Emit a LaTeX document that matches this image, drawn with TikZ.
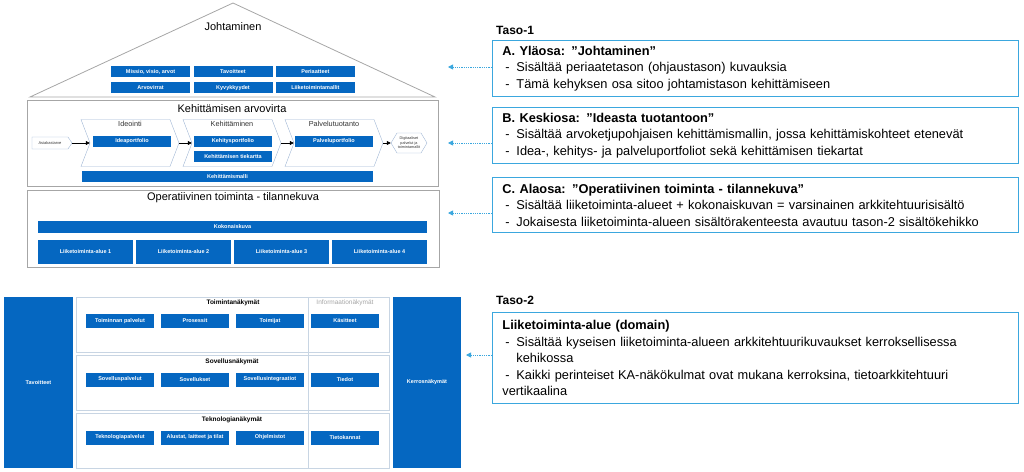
\documentclass[tikz,border=0pt]{standalone}
\usepackage{fontspec}
\setmainfont{Liberation Sans}
\usetikzlibrary{positioning,arrows.meta,shapes.symbols}

\definecolor{tileblue}{HTML}{0567C1}
\definecolor{chevline}{HTML}{9FB6D4}
\definecolor{panelgray}{HTML}{A6A6A6}
\definecolor{layerline}{HTML}{C8D5E3}
\definecolor{infoblue}{HTML}{3BA7DE}
\definecolor{textgray}{HTML}{333333}

\newcommand{\dashline}[1]{\par\hangindent=14pt\hangafter=1\noindent\makebox[14pt][l]{\hspace{3pt}-}#1}

\begin{document}
\begin{tikzpicture}[
    x=1pt, y=-1pt,
    tile/.style={
        fill=tileblue,
        text=white,
        inner sep=0pt,
        minimum width=79pt,
        minimum height=11pt,
        font=\fontsize{5.5}{6}\selectfont\bfseries
    },
    panel/.style={
        draw=panelgray,
        line width=0.8pt,
        inner sep=0pt
    },
    paneltitle/.style={
        inner sep=0pt,
        font=\fontsize{11}{13}\selectfont
    },
    phase/.style={
        signal,
        signal from=west,
        signal to=east,
        signal pointer angle=138,
        draw=chevline,
        minimum width=98pt,
        minimum height=47pt,
        inner sep=0pt
    },
    phaselabel/.style={
        inner sep=0pt,
        text=textgray,
        font=\fontsize{7.3}{8}\selectfont
    },
    flow/.style={
        -{Triangle[length=4pt,width=4pt]},
        line width=0.6pt
    },
    layer/.style={
        draw=layerline,
        line width=0.7pt,
        minimum width=313pt,
        minimum height=55pt,
        inner sep=0pt
    },
    layertitle/.style={
        inner sep=0pt,
        font=\fontsize{6.5}{8}\selectfont\bfseries
    },
    infobox/.style={
        draw=infoblue,
        line width=0.9pt,
        anchor=north west,
        minimum width=526pt,
        text width=506pt,
        inner xsep=10pt,
        inner ysep=4pt,
        align=left,
        font=\fontsize{12.8}{16.5}\selectfont
    },
    tasolabel/.style={
        anchor=west,
        inner sep=0pt,
        font=\fontsize{12}{14}\selectfont\bfseries
    },
    pointer/.style={
        densely dotted,
        draw=infoblue,
        line width=0.8pt,
        -{Triangle[length=5pt,width=5pt,fill=infoblue]}
    }
]
\useasboundingbox (0,0) rectangle (1024,471);

\draw[panel] (30,97) -- (233,3) -- (435,97) -- cycle;
\node[paneltitle] (johtaminen) at (233,27) {Johtaminen};
\node[tile] (tavoitteetylä) at (233,71.5) {Tavoitteet};
\node[tile, left=3pt of tavoitteetylä] (missio) {Missio, visio, arvot};
\node[tile, right=3pt of tavoitteetylä] (periaatteet) {Periaatteet};
\node[tile, below=5pt of missio] (arvovirrat) {Arvovirrat};
\node[tile, below=5pt of tavoitteetylä] (kyvykkyydet) {Kyvykkyydet};
\node[tile, below=5pt of periaatteet] (toimintamallit) {Liiketoimintamallit};

\node[panel, minimum width=411pt, minimum height=86pt] (arvovirta) at (233,143) {};
\node[paneltitle] (arvovirtaotsikko) at (232,109) {Kehittämisen arvovirta};
\node[phase] (ideointi) at (130,143) {};
\node[phase] (kehittaminen) at (232,143) {};
\node[phase] (palvelutuotanto) at (334,143) {};
\node[phaselabel, below=2pt of ideointi.north] {Ideointi};
\node[phaselabel, below=2pt of kehittaminen.north] {Kehittäminen};
\node[phaselabel, below=2pt of palvelutuotanto.north] {Palvelutuotanto};
\node[tile, minimum width=78pt] (ideaportfolio) at (132,141.5) {Ideaportfolio};
\node[tile, minimum width=78pt] (kehitysportfolio) at (233,141.5) {Kehitysportfolio};
\node[tile, minimum width=78pt, below=4pt of kehitysportfolio] (tiekartta) {Kehittämisen tiekartta};
\node[tile, minimum width=78pt] (palveluportfolio) at (334,141.5) {Palveluportfolio};
\node[tile, minimum width=291pt] (kehittamismalli) at (227.5,176.5) {Kehittämismalli};
\node[signal, signal to=east, signal pointer angle=112, draw=chevline,
      minimum width=40pt, minimum height=12pt, inner sep=0pt,
      text=textgray, font=\fontsize{4}{5}\selectfont] (asiakastarve) at (50,143) {Asiakastarve};
\node[signal, signal to=west and east, signal pointer angle=118, draw=chevline,
      minimum width=36pt, minimum height=20pt, inner sep=0pt, align=center,
      text=textgray, font=\fontsize{3.8}{4.6}\selectfont] (digitaaliset) at (409,143) {Digitaaliset\\palvelut ja\\toimintamallit};
\draw[flow] (asiakastarve.east) -- (ideointi.west);
\draw[flow] (ideointi.east) -- (kehittaminen.west);
\draw[flow] (kehittaminen.east) -- (palvelutuotanto.west);
\draw[flow] (palvelutuotanto.east) -- (digitaaliset.west);

\node[panel, minimum width=412pt, minimum height=77pt] (operatiivinen) at (233,228.5) {};
\node[paneltitle] (operatiivinenotsikko) at (233,198) {Operatiivinen toiminta - tilannekuva};
\node[tile, minimum width=389pt, minimum height=12pt] (kokonaiskuva) at (232.5,227) {Kokonaiskuva};
\foreach \i in {1,...,4}
    \node[tile, minimum width=95pt, minimum height=24pt] (alue\i) at ({85.5+(\i-1)*98},252) {Liiketoiminta-alue \i};

\node[tile, minimum width=69pt, minimum height=171pt] (tavoitteet) at (38.5,382.5) {Tavoitteet};
\node[tile, minimum width=68pt, minimum height=171pt] (kerrosnakymat) at (427,382.5) {Kerrosnäkymät};
\node[layer] (toimintanakymat) at (232.5,324.5) {};
\node[layer] (sovellusnakymat) at (232.5,382.5) {};
\node[layer] (teknologianakymat) at (232.5,440.5) {};
\draw[layerline, line width=0.7pt] (308,297) -- (308,468);
\node[layertitle] at (233,303) {Toimintanäkymät};
\node[layertitle, font=\fontsize{6.5}{8}\selectfont, text=panelgray] at (345,303) {Informaationäkymät};
\node[layertitle] at (232,362) {Sovellusnäkymät};
\node[layertitle] at (232,420) {Teknologianäkymät};
\foreach \teksti [count=\i] in {Toiminnan palvelut, Prosessit, Toimijat, Käsitteet}
    \node[tile, minimum width=68pt, minimum height=14pt] (toiminta\i) at ({120+(\i-1)*75},321) {\teksti};
\foreach \teksti [count=\i] in {Sovelluspalvelut, Sovellukset, Sovellusintegraatiot, Tiedot}
    \node[tile, minimum width=68pt, minimum height=14pt] (sovellus\i) at ({120+(\i-1)*75},379.5) {\teksti};
\foreach \teksti [count=\i] in {Teknologiapalvelut, {Alustat, laitteet ja tilat}, Ohjelmistot, Tietokannat}
    \node[tile, minimum width=68pt, minimum height=14pt] (teknologia\i) at ({120+(\i-1)*75},437.5) {\teksti};

\node[tasolabel] (taso1) at (496,30) {Taso-1};
\node[infobox, minimum height=56pt] (ylaosa) at (492,40)
{\noindent\textbf{A. Yläosa: ”Johtaminen”}%
\dashline{Sisältää periaatetason (ohjaustason) kuvauksia}%
\dashline{Tämä kehyksen osa sitoo johtamistason kehittämiseen}};
\node[infobox, minimum height=56pt] (keskiosa) at (492,107)
{\noindent\textbf{B. Keskiosa: ”Ideasta tuotantoon”}%
\dashline{Sisältää arvoketjupohjaisen kehittämismallin, jossa kehittämiskohteet etenevät}%
\dashline{Idea-, kehitys- ja palveluportfoliot sekä kehittämisen tiekartat}};
\node[infobox, minimum height=55pt] (alaosa) at (492,177)
{\noindent\textbf{C. Alaosa: ”Operatiivinen toiminta - tilannekuva”}%
\dashline{Sisältää liiketoiminta-alueet + kokonaiskuvan = varsinainen arkkitehtuurisisältö}%
\dashline{Jokaisesta liiketoiminta-alueen sisältörakenteesta avautuu tason-2 sisältökehikko}};
\node[tasolabel] (taso2) at (496,300) {Taso-2};
\node[infobox, minimum height=91pt] (domain) at (492,312)
{\noindent\textbf{Liiketoiminta-alue (domain)}%
\dashline{Sisältää kyseisen liiketoiminta-alueen arkkitehtuurikuvaukset kerroksellisessa\newline kehikossa}%
\dashline{Kaikki perinteiset KA-näkökulmat ovat mukana kerroksina, tietoarkkitehtuuri\newline vertikaalina}};

\coordinate (ylaosakarki) at (448,67);
\coordinate (keskiosakarki) at (448,143);
\coordinate (alaosakarki) at (448,213);
\coordinate (domainkarki) at (466,355);
\draw[pointer] (ylaosa.west |- ylaosakarki) -- (ylaosakarki);
\draw[pointer] (keskiosa.west |- keskiosakarki) -- (keskiosakarki);
\draw[pointer] (alaosa.west |- alaosakarki) -- (alaosakarki);
\draw[pointer] (domain.west |- domainkarki) -- (domainkarki);
\end{tikzpicture}
\end{document}
